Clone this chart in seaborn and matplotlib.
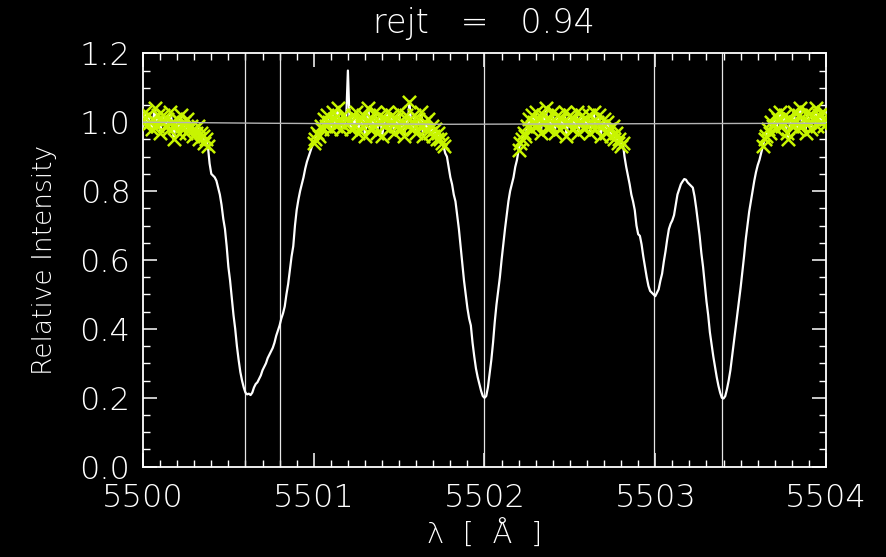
import numpy as np
import pandas as pd
import matplotlib
matplotlib.use("Agg")
import matplotlib.pyplot as plt
import seaborn as sns

# Normalised spectrum sampled every 0.01 A from 5500.00 to 5504.00
wave_start, wave_step = 5500.0, 0.01
flux = [
    # 5500.00 - 5500.38 continuum
    1.01, 1.03, 0.99, 1.02, 1.00, 0.98, 1.01, 1.04, 0.99, 1.02,
    0.97, 1.00, 1.02, 0.99, 1.01, 0.98, 1.03, 1.00, 0.95, 0.99,
    1.01, 0.97, 1.02, 0.99, 1.00, 0.97, 1.01, 0.98, 0.99, 0.96,
    0.98, 0.97, 0.99, 0.95, 0.97, 0.96, 0.94, 0.95, 0.93,
    # 5500.39 - 5500.99 blended line
    0.88, 0.85, 0.845, 0.84, 0.83, 0.81, 0.79, 0.76, 0.72, 0.69,
    0.64, 0.58, 0.54, 0.49, 0.44, 0.40, 0.35, 0.31, 0.275, 0.25,
    0.23, 0.215, 0.21, 0.212, 0.208, 0.215, 0.23, 0.24, 0.245, 0.255,
    0.265, 0.28, 0.29, 0.30, 0.315, 0.325, 0.335, 0.345, 0.36, 0.38,
    0.395, 0.41, 0.43, 0.445, 0.465, 0.50, 0.53, 0.57, 0.61, 0.64,
    0.70, 0.745, 0.775, 0.80, 0.82, 0.84, 0.865, 0.885, 0.90, 0.915,
    0.93,
    # 5501.00 - 5501.76 continuum
    0.94, 0.95, 0.97, 0.96, 0.99, 0.98, 1.01, 0.99, 1.02, 1.00,
    0.98, 1.03, 1.01, 0.99, 1.04, 1.00, 0.98, 1.02, 0.99, 1.01,
    1.15, 1.00, 0.98, 1.02, 0.99, 1.03, 0.97, 1.01, 0.99, 1.02,
    0.96, 1.00, 1.04, 0.98, 1.01, 0.99, 1.03, 0.97, 1.00, 1.02,
    0.96, 0.99, 1.01, 1.03, 0.98, 1.00, 1.02, 0.97, 1.01, 0.99,
    1.03, 0.98, 1.00, 0.96, 1.02, 0.99, 1.06, 1.00, 0.98, 1.02,
    0.97, 1.01, 0.99, 1.03, 0.96, 1.00, 0.98, 1.01, 0.97, 0.99,
    0.96, 0.98, 0.95, 0.97, 0.95, 0.94, 0.93,
    # 5501.77 - 5502.19 line
    0.91, 0.90, 0.87, 0.84, 0.82, 0.79, 0.77, 0.73, 0.69, 0.64,
    0.59, 0.54, 0.50, 0.46, 0.43, 0.41, 0.36, 0.32, 0.285, 0.26,
    0.24, 0.22, 0.205, 0.20, 0.205, 0.23, 0.27, 0.31, 0.36, 0.42,
    0.47, 0.51, 0.55, 0.60, 0.645, 0.69, 0.73, 0.77, 0.80, 0.82,
    0.84, 0.87, 0.89,
    # 5502.20 - 5502.81 continuum
    0.92, 0.94, 0.95, 0.97, 0.96, 0.99, 1.01, 0.98, 1.02, 1.00,
    1.03, 0.99, 1.01, 0.97, 1.02, 1.00, 1.04, 0.98, 1.01, 0.99,
    1.03, 0.97, 1.00, 1.02, 0.98, 1.01, 0.99, 1.03, 0.96, 1.00,
    1.02, 0.98, 1.01, 0.99, 1.03, 0.97, 1.00, 1.02, 0.98, 1.01,
    0.99, 1.02, 0.97, 1.00, 1.03, 0.98, 1.00, 1.02, 0.96, 0.99,
    1.01, 0.97, 1.00, 0.98, 0.96, 0.99, 0.95, 0.97, 0.94, 0.95,
    0.93, 0.94,
    # 5502.82 - 5503.62 pair of lines
    0.90, 0.87, 0.845, 0.82, 0.79, 0.77, 0.745, 0.70, 0.675, 0.67,
    0.645, 0.61, 0.58, 0.55, 0.525, 0.51, 0.505, 0.50, 0.495, 0.505,
    0.515, 0.54, 0.56, 0.595, 0.625, 0.66, 0.69, 0.705, 0.715, 0.73,
    0.76, 0.79, 0.805, 0.82, 0.828, 0.835, 0.833, 0.825, 0.82, 0.815,
    0.81, 0.785, 0.75, 0.71, 0.67, 0.62, 0.58, 0.53, 0.48, 0.44,
    0.39, 0.355, 0.32, 0.29, 0.26, 0.235, 0.215, 0.20, 0.198, 0.205,
    0.225, 0.25, 0.28, 0.32, 0.36, 0.40, 0.44, 0.48, 0.52, 0.565,
    0.61, 0.66, 0.70, 0.74, 0.77, 0.80, 0.83, 0.855, 0.875, 0.89,
    0.91,
    # 5503.63 - 5504.00 continuum
    0.93, 0.95, 0.96, 0.98, 0.97, 1.00, 0.99, 1.02, 0.98, 1.01,
    1.03, 0.99, 1.00, 1.02, 0.97, 0.95, 1.01, 0.99, 1.03, 1.00,
    0.98, 1.02, 1.04, 0.99, 1.01, 0.97, 1.03, 1.00, 0.98, 1.02,
    1.01, 1.04, 0.99, 1.02, 1.00, 1.03, 0.99, 1.01,
]
wave = wave_start + wave_step * np.arange(len(flux))

# Continuum windows and the rejection threshold
cont_windows = [(5500.00, 5500.385), (5500.995, 5501.765),
                (5502.195, 5502.815), (5503.625, 5504.001)]
rejt = 0.94
reject_dev = 0.10

# Fitted continuum level
fit_wave = [5500.0, 5500.7, 5501.8, 5503.2, 5504.0]
fit_level = [1.000, 0.997, 0.994, 0.996, 0.997]

# Line centres marked with vertical lines
line_centres = [5500.60, 5500.80, 5502.00, 5502.99, 5503.39]

spec = pd.DataFrame({"wave": wave, "flux": flux})
in_win = np.zeros(len(spec), dtype=bool)
for lo, hi in cont_windows:
    in_win |= (spec["wave"] >= lo) & (spec["wave"] <= hi)
keep = in_win & (np.abs(spec["flux"] - 1.0) < reject_dev)
cont = spec[keep]

sns.set_theme(style="ticks", rc={
    "figure.facecolor": "black", "axes.facecolor": "black",
    "savefig.facecolor": "black",
    "axes.edgecolor": "white", "axes.labelcolor": "white",
    "text.color": "white", "xtick.color": "white", "ytick.color": "white",
    "xtick.direction": "in", "ytick.direction": "in",
    "xtick.top": True, "ytick.right": True,
    "axes.linewidth": 1.3,
})
plt.rcParams["font.family"] = ["DejaVu Sans"]

fig = plt.figure(figsize=(8.86, 5.57), dpi=100)
ax = fig.add_axes([143 / 886, 90.3 / 557, 683 / 886, 413.4 / 557])

for xc in line_centres:
    ax.axvline(xc, color="#e6e6e6", lw=0.9, zorder=1)

sns.lineplot(data=spec, x="wave", y="flux", ax=ax, color="white",
             lw=1.6, sort=False, estimator=None, zorder=2)
sns.scatterplot(data=cont, x="wave", y="flux", ax=ax, marker="x",
                color="#c8f500", s=90, linewidth=1.8, zorder=3)
sns.lineplot(x=fit_wave, y=fit_level, ax=ax, color="#b4b4b4", lw=1.0,
             sort=False, estimator=None, zorder=4)

ax.set_xlim(5500, 5504)
ax.set_ylim(0.0, 1.2)
ax.set_xticks([5500, 5501, 5502, 5503, 5504])
ax.set_xticklabels(["5500", "5501", "5502", "5503", "5504"])
ax.set_yticks([0.0, 0.2, 0.4, 0.6, 0.8, 1.0, 1.2])
ax.set_yticklabels(["0.0", "0.2", "0.4", "0.6", "0.8", "1.0", "1.2"])
ax.set_xticks(np.arange(5500, 5504.001, 0.1), minor=True)
ax.set_yticks(np.arange(0, 1.2001, 0.05), minor=True)
ax.tick_params(which="major", length=10, width=1.1, labelsize=23, pad=12,
               top=True, right=True)
ax.tick_params(which="minor", length=5, width=1.0, top=True, right=True)
ax.tick_params(axis="y", pad=9)
for lbl in ax.get_xticklabels() + ax.get_yticklabels():
    lbl.set_fontweight("light")

ax.set_xlabel("λ  [  Å  ]", fontsize=21, labelpad=5, fontweight="light")
ax.set_ylabel("Relative Intensity", fontsize=19, labelpad=16,
              fontweight="light")
fig.text(484 / 886, 1 - 24 / 557, f"rejt   =   {rejt:.2f}", ha="center",
         va="center", fontsize=24, fontweight="light", color="white")

fig.savefig("out.png", dpi=100, facecolor="black")
